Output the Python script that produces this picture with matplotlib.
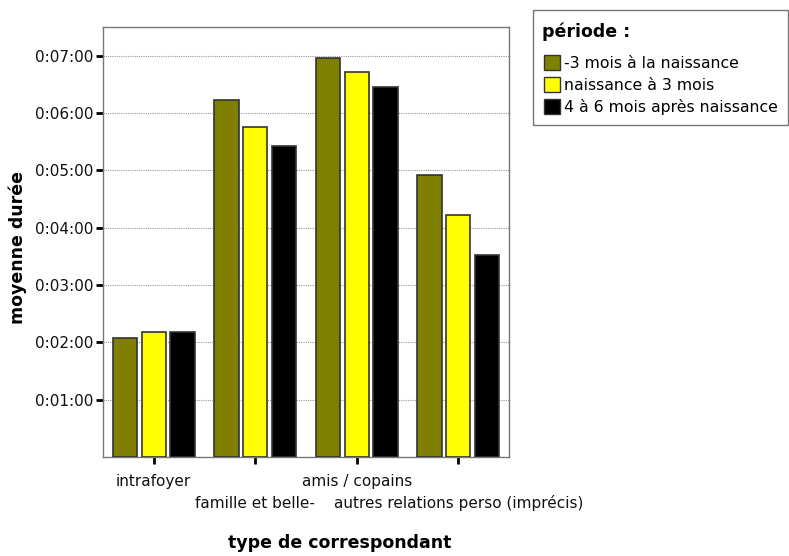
import matplotlib
matplotlib.use("Agg")
import matplotlib.pyplot as plt
from matplotlib.ticker import FuncFormatter
from matplotlib.patches import Patch, Rectangle
import numpy as np

plt.rcParams['font.family'] = ['DejaVu Sans']

categories = ["intrafoyer", "famille et belle-", "amis / copains", "autres relations perso (imprécis)"]
series_names = ["-3 mois à la naissance", "naissance à 3 mois", "4 à 6 mois après naissance"]
# mean durations in seconds
s1 = [125, 374, 418, 295]
s2 = [131, 345, 403, 253]
s3 = [131, 325, 387, 211]
colors = ["#808000", "#ffff00", "#000000"]
yticks = [60, 120, 180, 240, 300, 360, 420]

W, H = 789, 556
fig = plt.figure(figsize=(W / 100, H / 100), dpi=100)
ax = fig.add_axes([103/W, 1 - 457/H, 406/W, 430/H])

x = np.arange(len(categories))
w = 0.24
off = 0.283
for i, (vals, c) in enumerate(zip([s1, s2, s3], colors)):
    ax.bar(x + (i - 1) * off, vals, width=w, color=c, edgecolor="#333333", linewidth=1.2, zorder=3)

ax.set_xlim(-0.5, 3.5)
ax.set_ylim(0, 450)
ax.set_yticks(yticks)
ax.yaxis.set_major_formatter(FuncFormatter(lambda v, p: f"0:{int(v)//60:02d}:{int(v)%60:02d}"))
ax.grid(axis="y", color="#999999", linestyle=(0, (1, 1)), linewidth=0.8, zorder=0)

ax.set_xticks(x)
ax.set_xticklabels([])
for i, lab in enumerate(categories):
    yoff = -0.056 if i % 2 == 0 else -0.107
    ax.text(i, yoff, lab, transform=ax.get_xaxis_transform(), ha="center", va="center", fontsize=11, color="#111111")

ax.tick_params(axis="x", direction="out", length=5, width=2, color="black")
ax.tick_params(axis="y", direction="out", length=5, width=2, color="black", labelsize=11, labelcolor="#111111", pad=2)
for sp in ax.spines.values():
    sp.set_color("#777777")
    sp.set_linewidth(1.0)

fig.text(18/W, 1 - 247/H, "moyenne durée", rotation=90, ha="center", va="center", fontsize=12.5, fontweight="bold")
fig.text(340/W, 1 - 543/H, "type de correspondant", ha="center", va="center", fontsize=12.5, fontweight="bold")

# legend
fig.add_artist(Rectangle((533/W, 1 - 125/H), 255/W, 115/H, transform=fig.transFigure,
                         fill=False, edgecolor="#777777", linewidth=1.0))
fig.text(542/W, 1 - 32/H, "période :", ha="left", va="center", fontsize=12.5, fontweight="bold")
handles = [Patch(facecolor=c, edgecolor="#333333", linewidth=1.0) for c in colors]
leg = fig.legend(handles, series_names, loc="upper left", bbox_to_anchor=(544/W, 1 - 55/H),
                 fontsize=11.3, frameon=False, handlelength=1.0, handleheight=1.1, handletextpad=0.3,
                 borderpad=0, labelspacing=0.4, borderaxespad=0)

fig.savefig("out.png", dpi=100)
